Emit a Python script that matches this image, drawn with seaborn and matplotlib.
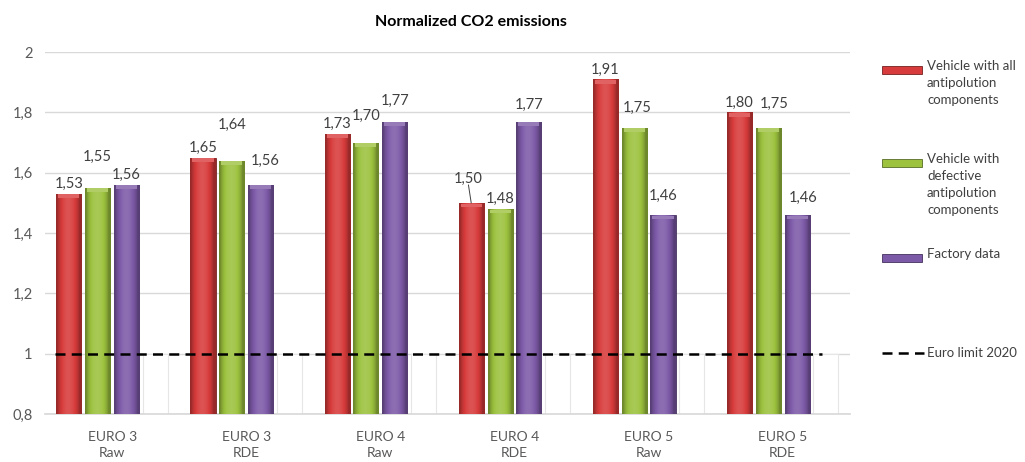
import numpy as np
import pandas as pd
import seaborn as sns
import matplotlib.pyplot as plt
from matplotlib.colors import to_rgb
from matplotlib.lines import Line2D
from matplotlib.patches import Rectangle
from matplotlib.ticker import FuncFormatter

categories = ["EURO 3\nRaw", "EURO 3\nRDE", "EURO 4\nRaw", "EURO 4\nRDE", "EURO 5\nRaw", "EURO 5\nRDE"]
series = ["Vehicle with all\nantipolution\ncomponents",
          "Vehicle with\ndefective\nantipolution\ncomponents",
          "Factory data"]
all_components = [1.53, 1.65, 1.73, 1.50, 1.91, 1.80]
defective = [1.55, 1.64, 1.70, 1.48, 1.75, 1.75]
factory = [1.56, 1.56, 1.77, 1.77, 1.46, 1.46]
euro_limit = 1.0

colors = ["#d83b3b", "#9cc23e", "#7d5aa8", "#ffffff"]

df = pd.DataFrame({
    "category": categories * 4,
    "series": [series[0]] * 6 + [series[1]] * 6 + [series[2]] * 6 + ["limit"] * 6,
    "value": all_components + defective + factory + [euro_limit] * 6,
})

sns.set_theme(style="white")
plt.rcParams["font.family"] = ["Lato", "DejaVu Sans"]

fig = plt.figure(figsize=(10.25, 4.62), dpi=100)
ax = fig.add_axes([0.044, 0.104, 0.785, 0.783])

sns.barplot(data=df, x="category", y="value", hue="series", palette=colors,
            width=0.86, gap=0.13, ax=ax, legend=False, zorder=3)
ax.set_ylim(0.8, 2.0)


def shade(c, f):
    c = np.array(to_rgb(c))
    return np.clip(c * f, 0, 1) if f < 1 else c + (1 - c) * (f - 1)


def gradient(base):
    t = np.linspace(0, 1, 60)
    prof = 0.7 + 0.42 * np.sin(np.pi * np.clip(t * 1.15 - 0.05, 0, 1)) ** 0.7
    return np.array([shade(base, f) for f in prof])[None, :, :]


# gradient look on coloured bars, plain white bars for the limit series
n = len(categories)
for i, p in enumerate(ax.patches[:4 * n]):
    s = i // n
    if s == 3:
        p.set_facecolor("white")
        p.set_edgecolor("#e6e6e6")
        p.set_linewidth(0.8)
        p.set_zorder(1)
        continue
    base = colors[s]
    x0, y0 = p.get_x(), 0.8
    w, h = p.get_width(), p.get_height() - 0.8
    im = ax.imshow(gradient(base), extent=(x0, x0 + w, y0, y0 + h), aspect="auto",
                   zorder=3.5, interpolation="bilinear")
    im.set_clip_path(p)
    p.set_edgecolor(shade(base, 0.55))
    p.set_linewidth(0.6)
    cap = Rectangle((x0 + w * 0.08, y0 + h - 0.014), w * 0.84, 0.012,
                    facecolor=shade(base, 1.2), edgecolor="none", zorder=3.6)
    ax.add_patch(cap)

ax.set_xlim(-0.5, n - 0.5)

# data labels (offsets in points, a few moved up as in the original)
label_shift = {(0, 1): (0, 15), (1, 1): (0, 19), (1, 2): (3, 10),
               (2, 1): (0, 12), (2, 2): (0, 8), (3, 0): (-2, 10),
               (3, 2): (0, 5), (4, 1): (2, 7), (4, 2): (0, 7),
               (5, 1): (4, 10), (5, 2): (4, 5)}
values = [all_components, defective, factory]
for s in range(3):
    for k in range(n):
        p = ax.patches[s * n + k]
        xc = p.get_x() + p.get_width() / 2
        v = values[s][k]
        dx, dy = label_shift.get((k, s), (0, 0))
        ax.annotate(f"{v:.2f}".replace(".", ","), (xc, v), xytext=(dx, 2 + dy),
                    textcoords="offset points", ha="center", va="bottom",
                    fontsize=10.5, color="#404040", zorder=5)
        if (k, s) == (3, 0):
            ax.annotate("", (xc, v), xytext=(dx, 3 + dy), textcoords="offset points",
                        arrowprops=dict(arrowstyle="-", color="#404040", lw=0.7,
                                        shrinkA=0, shrinkB=0), zorder=5)

ax.axhline(euro_limit, xmin=0.012, xmax=0.965, color="black", ls=(0, (4, 2.5)),
           lw=1.8, zorder=6)

ax.yaxis.set_major_formatter(FuncFormatter(lambda v, _: f"{v:g}".replace(".", ",")))
ax.set_yticks(np.arange(0.8, 2.01, 0.2))
ax.grid(axis="y", color="#d9d9d9", lw=1, zorder=0)
for side in ["top", "right", "left"]:
    ax.spines[side].set_visible(False)
ax.spines["bottom"].set_color("#d9d9d9")
ax.tick_params(axis="y", colors="#595959", labelsize=10.5, length=0, pad=9)
ax.tick_params(axis="x", colors="#595959", labelsize=10, length=0, pad=12)
for t in ax.get_xticklabels():
    t.set_linespacing(1.4)
ax.set_xlabel("")
ax.set_ylabel("")

fig.text(0.459, 0.952, "Normalized CO2 emissions", ha="center", va="center",
         fontsize=11.5, fontweight="bold", color="#000000")

# legend drawn by hand so the handle sits on the first text line
W, H = 1025, 462
legend_rows = [(series[0], 70), (series[1], 163), (series[2], 258)]
for s, (lab, y) in enumerate(legend_rows):
    fig.add_artist(Rectangle((882 / W, 1 - (y + 4) / H), 40 / W, 8 / H,
                             transform=fig.transFigure, facecolor=colors[s],
                             edgecolor=shade(colors[s], 0.55), lw=0.6))
    fig.text(927 / W, 1 - (y - 10) / H, lab, ha="left", va="top", fontsize=9.5,
             color="#404040", linespacing=1.5)
fig.add_artist(Line2D([882 / W, 924 / W], [1 - 353 / H] * 2, transform=fig.transFigure,
                      color="black", ls=(0, (4, 2.5)), lw=1.8))
fig.text(927 / W, 1 - 353 / H, "Euro limit 2020", ha="left", va="center",
         fontsize=9.5, color="#404040")

fig.savefig("out.png", dpi=100)
